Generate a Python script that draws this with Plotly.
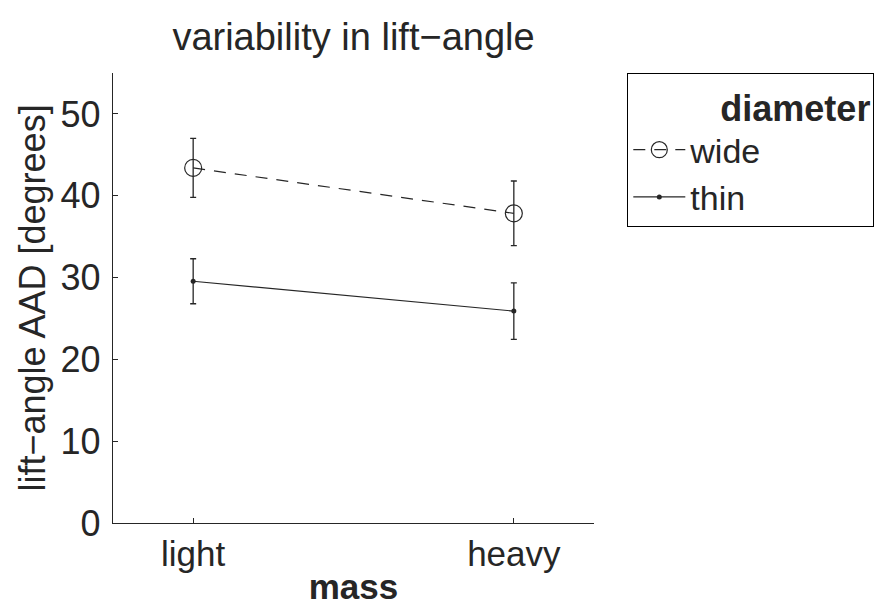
import plotly.graph_objects as go

# data
masses = ["light", "heavy"]
diameters = ["wide", "thin"]
aad_wide = [43.4, 37.85]
err_wide = [3.6, 3.95]
aad_thin = [29.55, 25.9]
err_thin = [2.75, 3.45]
yticks = [0, 10, 20, 30, 40, 50]

ink = "#262626"
font_name = "Liberation Sans, Arial, Helvetica, sans-serif"

# the page body has an 8px margin, so the figure is 8px smaller each way
W, H = 882, 604

fig = go.Figure()

fig.add_trace(go.Scatter(
    x=masses, y=aad_wide, name=diameters[0], mode="lines+markers",
    line=dict(color=ink, width=1.2, dash="12px,9px"),
    marker=dict(symbol="circle-open", size=17, color=ink, line=dict(width=1.2)),
    error_y=dict(type="data", array=err_wide, color=ink, thickness=1.3, width=3),
))
fig.add_trace(go.Scatter(
    x=masses, y=aad_thin, name=diameters[1], mode="lines+markers",
    line=dict(color=ink, width=1.2),
    marker=dict(symbol="circle", size=5, color=ink),
    error_y=dict(type="data", array=err_thin, color=ink, thickness=1.3, width=3),
))

# pad the legend title so it sits to the right, as in the original
legend_title = "\u00a0" * 9 + "<b>diameter</b>"

fig.update_layout(
    width=W, height=H,
    margin=dict(l=105, r=296, t=65, b=89, autoexpand=False),
    plot_bgcolor="white", paper_bgcolor="white",
    font=dict(family=font_name, size=36, color=ink),
    title=dict(text="variability in lift\u2212angle", x=0.5, xref="paper",
               xanchor="center", y=1 - 29 / H, yanchor="middle",
               font=dict(size=38, color=ink)),
    legend=dict(
        x=(619 - 105) / 481, y=1.0, xanchor="left", yanchor="top",
        bordercolor="black", borderwidth=1.3, bgcolor="white",
        font=dict(size=34, color=ink), itemwidth=52,
        title=dict(text=legend_title, side="top", font=dict(size=36, color=ink)),
        tracegroupgap=0,
    ),
    showlegend=True,
)

fig.update_xaxes(
    type="category", range=[-0.25, 1.25], automargin=False,
    showline=True, linecolor=ink, linewidth=1.3, mirror=False,
    showgrid=False, zeroline=False,
    ticks="inside", ticklen=5, tickcolor=ink, tickwidth=1,
    ticklabelstandoff=0,
    tickfont=dict(size=35, color=ink),
    title=dict(text="<b>mass</b>", standoff=2, font=dict(size=35, color=ink)),
)
fig.update_yaxes(
    range=[0, 55], tickvals=yticks, automargin=False,
    showline=True, linecolor=ink, linewidth=1.3, mirror=False,
    showgrid=False, zeroline=False,
    ticks="inside", ticklen=5, tickcolor=ink, tickwidth=1,
    ticklabelstandoff=4,
    tickfont=dict(size=36, color=ink),
    title=dict(text="lift\u2212angle AAD [degrees]", standoff=4, font=dict(size=36, color=ink)),
)

fig.write_html("out.html")
